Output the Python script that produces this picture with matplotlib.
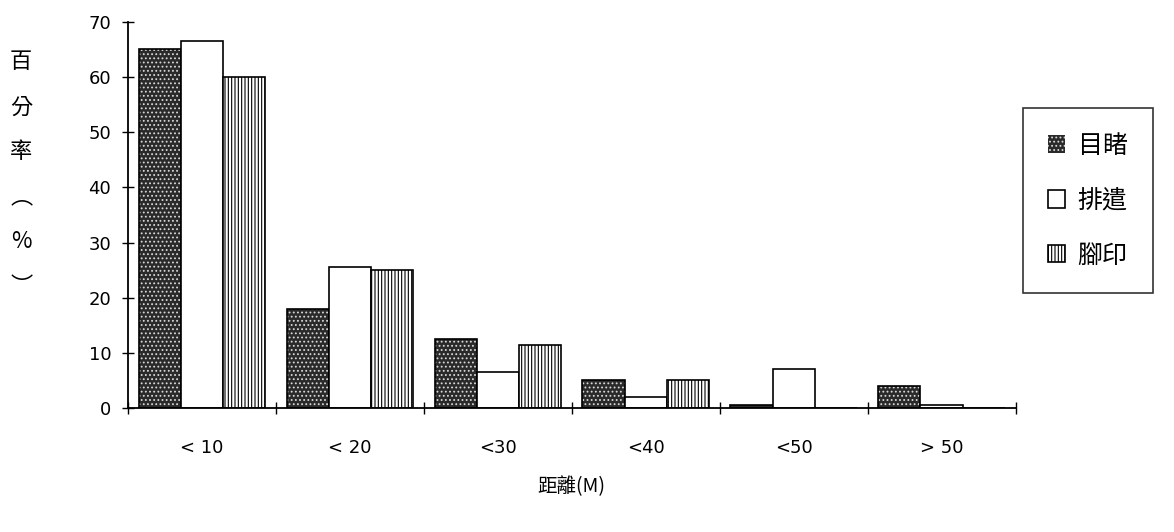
import numpy as np
import matplotlib
matplotlib.use('Agg')
import matplotlib.pyplot as plt

plt.rcParams['font.family'] = ['Noto Sans CJK TC', 'DejaVu Sans']
plt.rcParams['hatch.linewidth'] = 0.8

# data
categories = ['< 10', '< 20', '<30', '<40', '<50', '> 50']
series = ['目睹', '排遣', '腳印']
witness = [65, 18, 12.5, 5, 0.5, 4]
pass_time = [66.5, 25.5, 6.5, 2, 7, 0.5]
footprint = [60, 25, 11.5, 5, 0, 0]
ylabel_chars = ['百', '分', '率', '︵', '%', '︶']

fig = plt.figure(figsize=(11.74, 5.32), dpi=100)
ax = fig.add_axes([0.109, 0.233, 0.756, 0.726])

x = np.arange(len(categories))
w = 0.285

# dark speckled bars
b1 = ax.bar(x - w, witness, w, color='#2a2a2a', edgecolor='#d8d8d8',
            hatch='....', linewidth=0, label=series[0])
ax.bar(x - w, witness, w, fill=False, edgecolor='black', linewidth=1.2)
# white bars
b2 = ax.bar(x, pass_time, w, color='white', edgecolor='black',
            linewidth=1.2, label=series[1])
# vertically hatched bars
b3 = ax.bar(x + w, footprint, w, color='white', edgecolor='black',
            hatch='|||||', linewidth=1.2, label=series[2])

# axes
ax.set_xlim(-0.5, len(categories) - 0.5)
ax.set_ylim(0, 70)
ax.set_yticks(np.arange(0, 71, 10))
ax.set_xticks(np.arange(-0.5, len(categories)), [''] * (len(categories) + 1))
ax.set_xticks(x, categories, minor=True)
ax.tick_params(axis='x', which='minor', length=0, pad=22, labelsize=13)
ax.tick_params(axis='x', which='major', length=8, direction='inout', width=1)
ax.tick_params(axis='y', length=8, direction='inout', width=1,
               labelsize=13, pad=8)
for s in ['top', 'right']:
    ax.spines[s].set_visible(False)
for s in ['left', 'bottom']:
    ax.spines[s].set_linewidth(1.3)
for lab in ax.get_yticklabels() + ax.get_xticklabels(minor=True):
    lab.set_family('DejaVu Sans')

ax.set_xlabel('距離(M)', fontsize=14, labelpad=14)

# vertical y label
for i, ch in enumerate(ylabel_chars):
    fig.text(0.018, 1 - (62 + 45 * i) / 532, ch, fontsize=16,
             ha='center', va='center')

leg = fig.legend(handles=[b1, b2, b3], labels=series, loc='upper left',
                 bbox_to_anchor=(0.871, 0.797), borderaxespad=0, fontsize=18,
                 frameon=True, fancybox=False, edgecolor='black',
                 handlelength=0.7, handleheight=0.7, handletextpad=0.5,
                 labelspacing=1.15, borderpad=1.0)
leg.get_frame().set_linewidth(1.2)

fig.savefig('out.png', dpi=100)
